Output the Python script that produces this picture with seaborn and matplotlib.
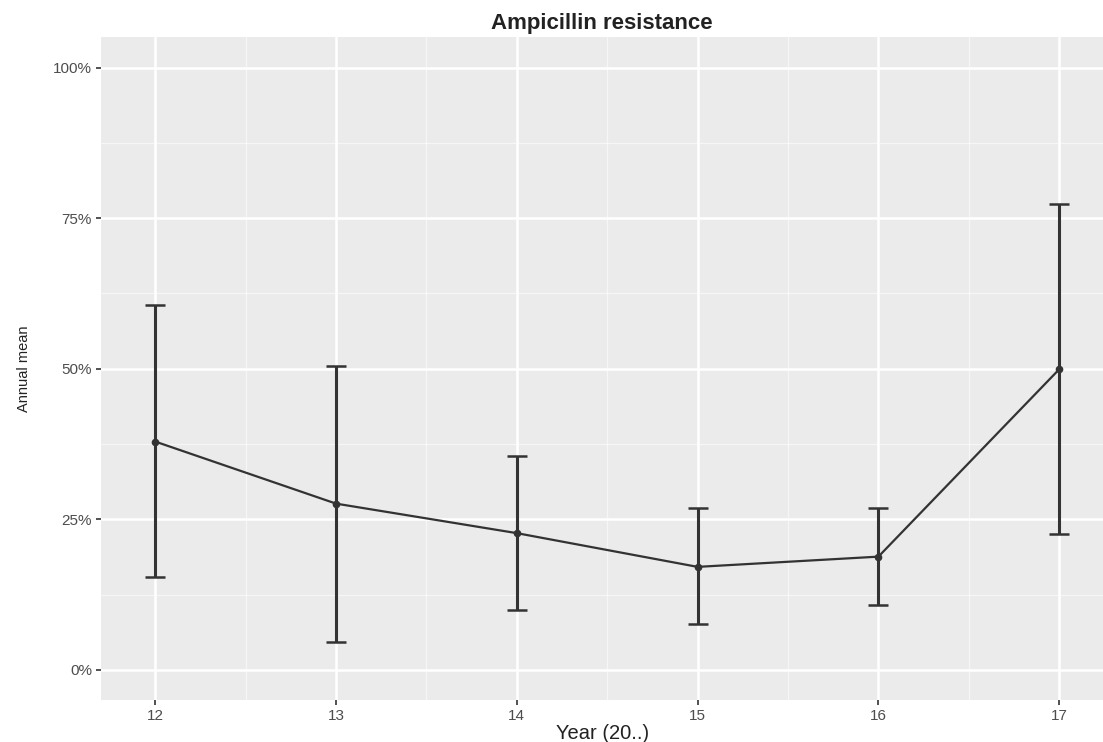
import numpy as np
import pandas as pd
import matplotlib
matplotlib.use("Agg")
import matplotlib.pyplot as plt
import seaborn as sns
from matplotlib.ticker import FixedLocator, PercentFormatter

# Data
years = [12, 13, 14, 15, 16, 17]
annual_mean = [0.379, 0.276, 0.227, 0.171, 0.188, 0.499]
ci_lower = [0.154, 0.047, 0.099, 0.076, 0.107, 0.226]
ci_upper = [0.606, 0.504, 0.355, 0.268, 0.269, 0.774]

df = pd.DataFrame({"Year": years, "Mean": annual_mean, "Lower": ci_lower, "Upper": ci_upper})

# ggplot-like theme
sns.set_theme(style="darkgrid", rc={
    "axes.facecolor": "#EBEBEB",
    "grid.color": "white",
    "axes.edgecolor": "none",
})
plt.rcParams["font.family"] = ["Liberation Sans", "DejaVu Sans"]

fig = plt.figure(figsize=(11.03, 7.42), dpi=100)
ax = fig.add_axes([0.0916, 0.0566, 0.9085, 0.893])

# error bars
ax.errorbar(df["Year"], df["Mean"],
            yerr=[df["Mean"] - df["Lower"], df["Upper"] - df["Mean"]],
            fmt="none", ecolor="#333333", elinewidth=2.2, capsize=7, capthick=1.8, zorder=3)
sns.lineplot(data=df, x="Year", y="Mean", ax=ax, color="#333333", linewidth=1.6,
             marker="o", markersize=5.5, markeredgewidth=0, zorder=4)

ax.set_xlim(11.70, 17.243)
ax.set_ylim(-0.05, 1.05)
ax.xaxis.set_major_locator(FixedLocator(years))
ax.xaxis.set_minor_locator(FixedLocator([12.5, 13.5, 14.5, 15.5, 16.5]))
ax.yaxis.set_major_locator(FixedLocator([0, 0.25, 0.5, 0.75, 1.0]))
ax.yaxis.set_minor_locator(FixedLocator([0.125, 0.375, 0.625, 0.875]))
ax.yaxis.set_major_formatter(PercentFormatter(1.0, decimals=0))

ax.grid(which="major", color="white", linewidth=1.8)
ax.grid(which="minor", color="white", linewidth=0.9, alpha=0.6)
for s in ax.spines.values():
    s.set_visible(False)

ax.tick_params(axis="both", which="major", length=3.5, width=1.2, color="#333333",
               labelsize=11, labelcolor="#4D4D4D", pad=3, bottom=True, left=True)
ax.tick_params(axis="both", which="minor", length=0)

ax.set_xlabel("Year (20..)", fontsize=14.5, color="#222222", labelpad=1)
ax.set_ylabel("Annual mean", fontsize=10.5, color="#222222", labelpad=16)
ax.set_title("Ampicillin resistance", fontsize=16, fontweight="bold", color="#222222", pad=6)

fig.savefig("out.png", dpi=100)
